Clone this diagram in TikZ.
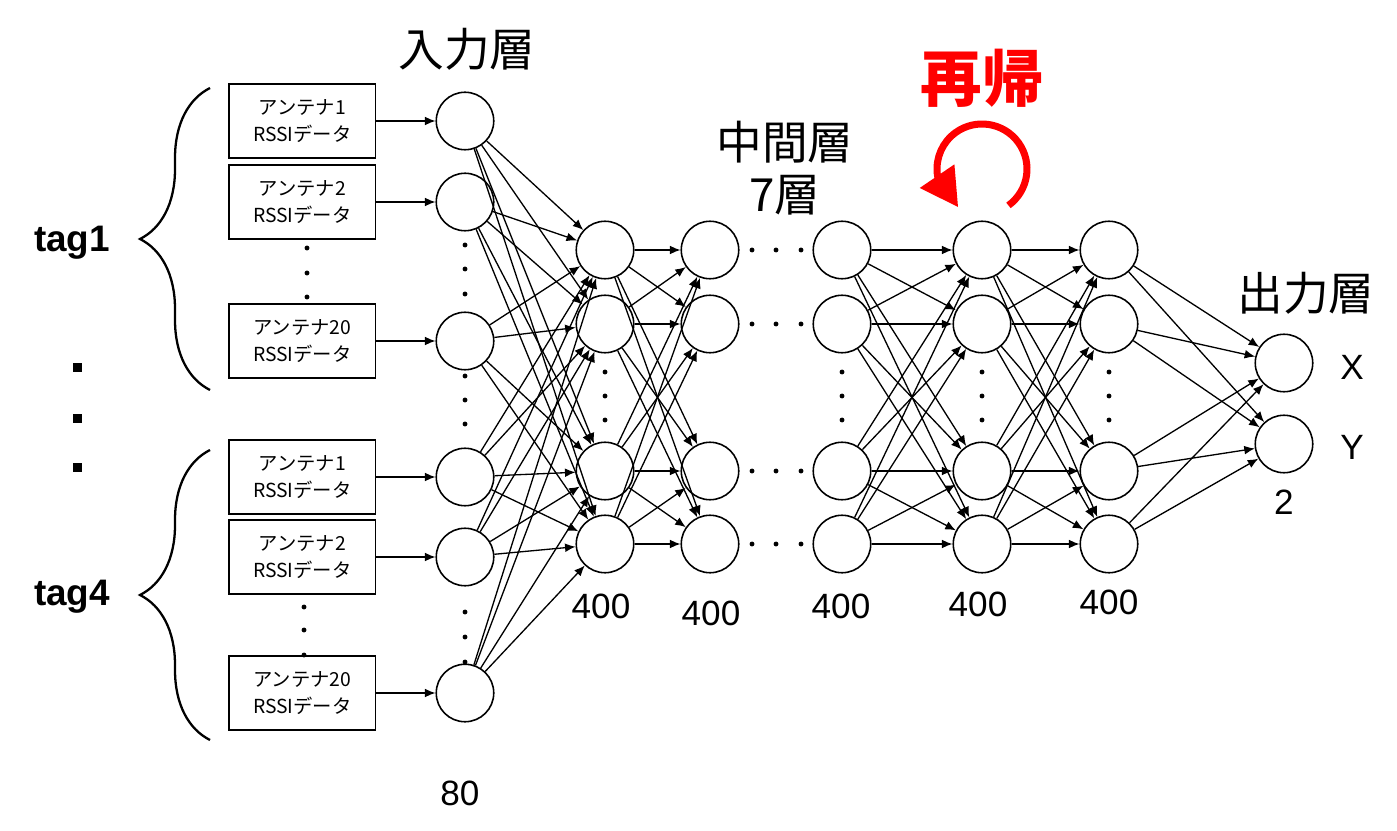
\documentclass[tikz,border=0pt]{standalone}
\usepackage{fontspec}
\setmainfont{Liberation Sans}
\newfontfamily\jpfont{Noto Sans CJK JP}
\usetikzlibrary{arrows.meta,bending,positioning,decorations.pathreplacing}

\begin{document}
\begin{tikzpicture}[x=0.02cm, y=-0.02cm,
  neuron/.style={circle, draw, line width=0.9pt, minimum size=1.15cm, inner sep=0pt},
  block/.style={rectangle, draw, line width=0.9pt, minimum width=2.94cm, minimum height=1.48cm, align=center, font=\jpfont\fontsize{11}{15}\selectfont},
  line/.style={draw, line width=0.75pt, -{Latex[length=6pt,width=5pt]}},
  layertitle/.style={font=\jpfont\fontsize{26}{29.5}\selectfont, align=center},
  numlabel/.style={font=\fontsize{20}{24}\selectfont},
  tagbrace/.style={draw, line width=1.3pt, decorate, decoration={brace, amplitude=1.4cm}}]

  \useasboundingbox (0,0) rectangle (1397,831);

  % input layer with the RSSI boxes
  \foreach \y [count=\i] in {121,202,341,477,557,693}
    \node [neuron] (in\i) at (465,\y) {};
  \foreach \n [count=\i] in {1,2,20,1,2,20} {
    \node [block, left=1.18cm of in\i] (ant\i) {アンテナ\n\\RSSIデータ};
    \draw [line] (ant\i) -- (in\i);
  }

  % hidden layers and output layer
  \foreach \x [count=\k] in {605,710,842,982,1109}
    \foreach \y [count=\i] in {250,324,471,544}
      \node [neuron] (h\k-\i) at (\x,\y) {};
  \node [neuron] (outx) at (1284,363) {};
  \node [neuron] (outy) at (1284,444) {};

  % connections
  \foreach \i in {1,...,6}
    \foreach \j in {1,...,4}
      \draw [line] (in\i) -- (h1-\j);
  \foreach \i in {1,...,4}
    \foreach \j in {1,...,4} {
      \draw [line] (h1-\i) -- (h2-\j);
      \draw [line] (h3-\i) -- (h4-\j);
      \draw [line] (h4-\i) -- (h5-\j);
    }
  \foreach \i in {1,...,4} {
    \draw [line] (h5-\i) -- (outx);
    \draw [line] (h5-\i) -- (outy);
  }

  % dots
  \foreach \y in {245,269,294,376,400,424,612,637,662}
    \fill (465,\y) circle (1.4pt);
  \foreach \y in {248,273,297}
    \fill (307,\y) circle (1.4pt);
  \foreach \y in {607,630,655}
    \fill (304,\y) circle (1.4pt);
  \foreach \x in {605,842,982,1109}
    \foreach \y in {372,396,420}
      \fill (\x,\y) circle (1.4pt);
  \foreach \x in {752,776,801}
    \foreach \y in {250,324,471,544}
      \fill (\x,\y) circle (1.4pt);
  \foreach \y in {368,418,467}
    \fill (77,\y) +(-4.5,-4.5) rectangle +(4.5,4.5);

  % tags
  \draw [tagbrace] (210,390) -- (210,88);
  \draw [tagbrace] (210,740) -- (210,450);
  \node [font=\bfseries\fontsize{21}{24}\selectfont] (tag1) at (72,243) {tag1};
  \node [font=\bfseries\fontsize{21}{24}\selectfont] (tag4) at (72,597) {tag4};

  % labels
  \node [layertitle] (intitle) at (467,49) {入力層};
  \node [layertitle] (midtitle) at (785,168) {中間層\\7層};
  \node [layertitle] (outtitle) at (1306,293) {出力層};
  \node [numlabel] (n80) at (460,793) {80};
  \foreach \x/\y [count=\k] in {601/606,711/613,841/606,978/604,1109/602}
    \node [numlabel] (n\k) at (\x,\y) {400};
  \node [numlabel] (n2) at (1284,502) {2};
  \node [numlabel] (lx) at (1352,367) {X};
  \node [numlabel] (ly) at (1352,447) {Y};

  % recurrence
  \node [font=\jpfont\bfseries\fontsize{35}{40}\selectfont, red] (rec) at (982,78) {再帰};
  \draw [red, line width=4pt, -{Triangle[length=0.75cm,width=0.8cm,flex]}]
    (982,169) ++(54:45) arc [start angle=54, end angle=-238, radius=45];
\end{tikzpicture}
\end{document}
